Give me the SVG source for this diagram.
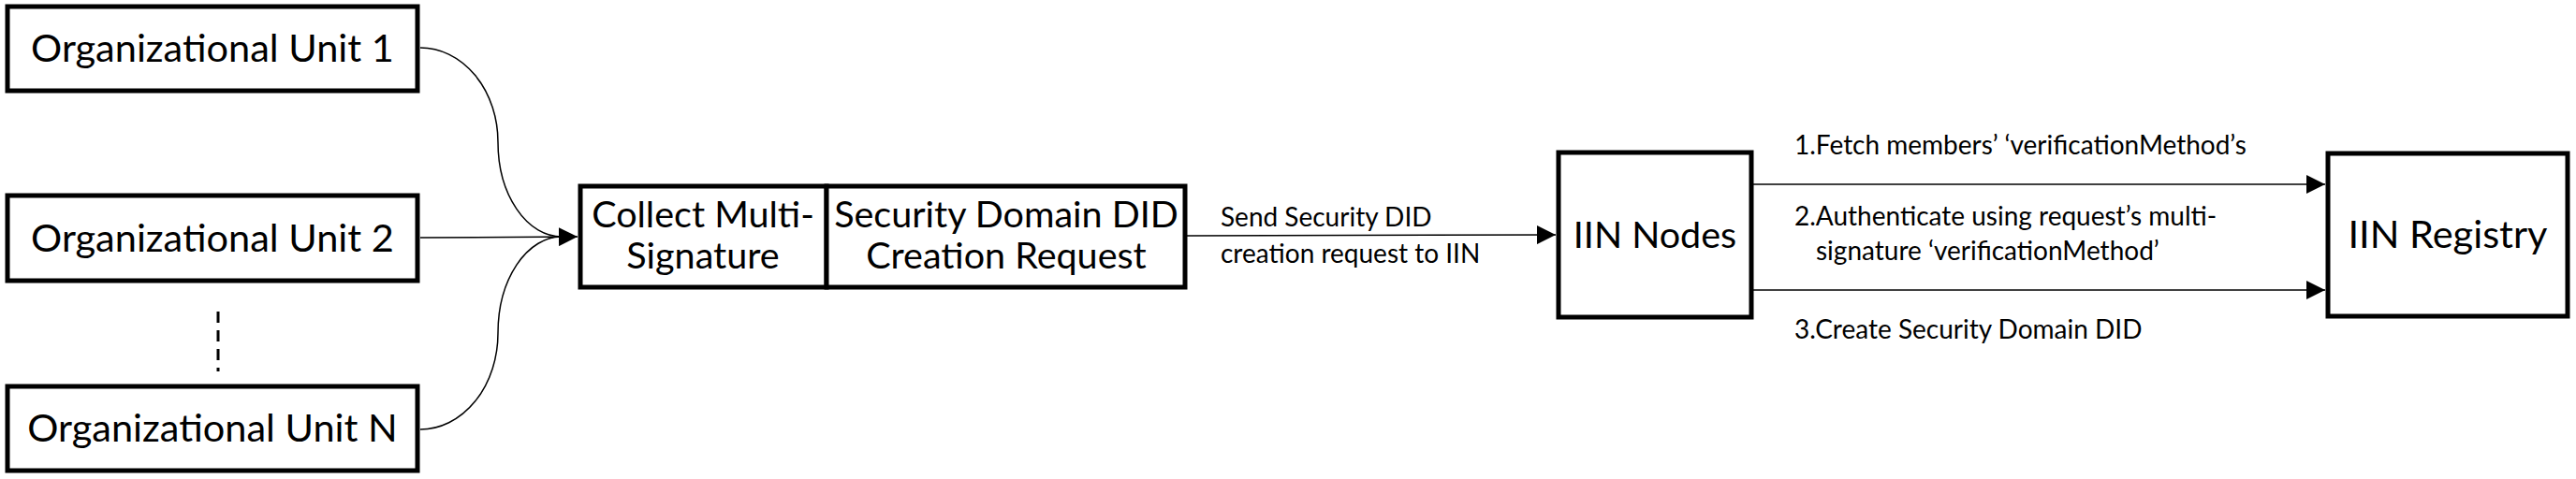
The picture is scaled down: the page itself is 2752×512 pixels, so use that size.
<svg xmlns="http://www.w3.org/2000/svg" width="2752" height="512" viewBox="0 0 2752 512">
<style>
.box{fill:#fff;stroke:#000;stroke-width:5}
.lbl{font-family:"Lato","Open Sans",sans-serif;fill:#000}
.big{font-size:41.5px;text-anchor:middle}
.mid{font-size:39.5px;text-anchor:middle}
.sm{font-size:28px}
.con{fill:none;stroke:#000;stroke-width:1.5}
</style>
<defs>
<marker id="arr" markerUnits="userSpaceOnUse" markerWidth="20" markerHeight="20" refX="20" refY="10" orient="auto">
<path d="M0,0 L20,10 L0,20 Z" fill="#000"/>
</marker>
</defs>
<rect width="2752" height="512" fill="#fff"/>
<g id="connectors">
<path class="con" d="M449,51 A83,101 0 0 1 532,152 A68,101 0 0 0 600,253"/>
<path class="con" d="M449,254 L617,253" marker-end="url(#arr)"/>
<path class="con" d="M449,459 A83,103 0 0 0 532,356 A68,103 0 0 1 600,253"/>
<line x1="233" y1="333" x2="233" y2="397" stroke="#000" stroke-width="3" stroke-dasharray="12,8"/>
<path class="con" d="M1267,252 L1662,251" marker-end="url(#arr)"/>
<path class="con" d="M1873,197 L2484,197" marker-end="url(#arr)"/>
<path class="con" d="M1873,310 L2484,310" marker-end="url(#arr)"/>
<text class="lbl sm" x="1304" y="242">Send Security DID</text>
<text class="lbl sm" x="1304" y="281">creation request to IIN</text>
<text class="lbl sm" x="1917" y="165">1.Fetch members’ ‘verificationMethod’s</text>
<text class="lbl sm" x="1917" y="241">2.Authenticate using request’s multi-</text>
<text class="lbl sm" x="1940" y="278">signature ‘verificationMethod’</text>
<text class="lbl sm" x="1917" y="362">3.Create Security Domain DID</text>
</g>
<g id="ou1">
<rect class="box" x="8" y="7" width="438" height="90"/>
<text class="lbl big" x="227" y="66">Organizational Unit 1</text>
</g>
<g id="ou2">
<rect class="box" x="8" y="209" width="438" height="91"/>
<text class="lbl big" x="227" y="269">Organizational Unit 2</text>
</g>
<g id="ouN">
<rect class="box" x="8" y="413" width="438" height="90"/>
<text class="lbl big" x="227" y="472">Organizational Unit N</text>
</g>
<g id="collect">
<rect class="box" x="620" y="199" width="263" height="108"/>
<text class="lbl mid" x="751" y="243">Collect Multi-</text>
<text class="lbl mid" x="751" y="287">Signature</text>
</g>
<g id="request">
<rect class="box" x="883" y="199" width="383" height="108"/>
<text class="lbl mid" x="1075" y="243">Security Domain DID</text>
<text class="lbl mid" x="1075" y="287">Creation Request</text>
</g>
<g id="iin-nodes">
<rect class="box" x="1665" y="163" width="206" height="176"/>
<text class="lbl mid" x="1768" y="265">IIN Nodes</text>
</g>
<g id="iin-registry">
<rect class="box" x="2487" y="164" width="256" height="174"/>
<text class="lbl big" x="2615" y="265">IIN Registry</text>
</g>
</svg>
